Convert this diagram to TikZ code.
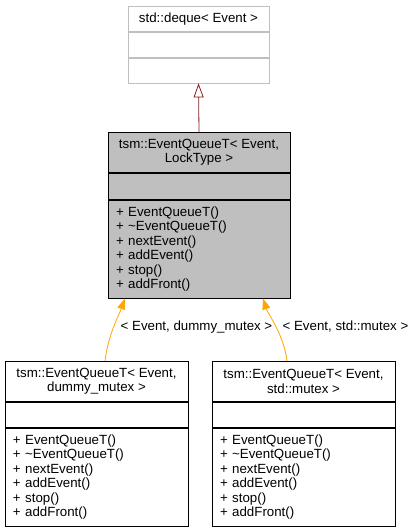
\documentclass[tikz,border=0pt]{standalone}
\usepackage{fontspec}
\setmainfont{Liberation Sans}
\usetikzlibrary{arrows.meta,positioning}
\definecolor{boxgrey}{RGB}{191,191,191}
\definecolor{edgered}{RGB}{128,32,32}
\definecolor{tmplorange}{RGB}{255,165,0}
\newcommand{\queueops}{+ EventQueueT()\\+ \textasciitilde EventQueueT()\\+ nextEvent()\\+ addEvent()\\+ stop()\\+ addFront()}

\begin{document}
\begin{tikzpicture}[
    x=1bp, y=-1bp,
    every node/.style={font=\fontsize{13.3bp}{14.4bp}\selectfont, inner sep=0pt, line width=0.8bp},
    classhead/.style={draw, anchor=north, minimum height=40bp, align=center},
    classattr/.style={draw, minimum height=25bp},
    classops/.style={draw, minimum height=98bp, align=left, inner xsep=8bp},
    inherit/.style={-{Triangle[open, length=14bp, width=10bp]}, edgered, line width=0.8bp},
    instance/.style={-{Triangle[length=11bp, width=8bp]}, tmplorange, line width=0.8bp}
  ]
    \useasboundingbox (0,0) rectangle (417,531);

    % base class
    \node[classhead, draw=boxgrey, minimum width=141bp, minimum height=25bp] (dqhead) at (198.5,6) {std::deque< Event >};
    \node[classattr, draw=boxgrey, minimum width=141bp, below=0pt of dqhead] (dqattr) {};
    \node[classattr, draw=boxgrey, minimum width=141bp, below=0pt of dqattr] (dqops) {};

    % template
    \node[classhead, fill=boxgrey, minimum width=182bp] (eqhead) at (199,132) {tsm::EventQueueT< Event,\\LockType >};
    \node[classattr, fill=boxgrey, minimum width=182bp, minimum height=26bp, below=0pt of eqhead] (eqattr) {};
    \node[classops, fill=boxgrey, text width=166bp, below=0pt of eqattr] (eqops) {\queueops};

    % instances
    \node[classhead, minimum width=183bp] (dmhead) at (96.5,361) {tsm::EventQueueT< Event,\\dummy\_mutex >};
    \node[classattr, minimum width=183bp, below=0pt of dmhead] (dmattr) {};
    \node[classops, text width=167bp, below=0pt of dmattr] (dmops) {\queueops};

    \node[classhead, minimum width=183bp] (smhead) at (303.5,361) {tsm::EventQueueT< Event,\\std::mutex >};
    \node[classattr, minimum width=183bp, below=0pt of smhead] (smattr) {};
    \node[classops, text width=167bp, below=0pt of smattr] (smops) {\queueops};

    \node (dmlabel) at (196.5,327) {< Event, dummy\_mutex >};
    \node (smlabel) at (345.5,327) {< Event, std::mutex >};

    \draw[inherit] (eqhead.north) -- (dqops.south);
    \draw[instance] ([xshift=8.5bp]dmhead.north) .. controls (108,335) and (119,315) .. ([xshift=-74bp]eqops.south);
    \draw[instance] ([xshift=-16.5bp]smhead.north) .. controls (284,335) and (268,314) .. ([xshift=64bp]eqops.south);
  \end{tikzpicture}
\end{document}
